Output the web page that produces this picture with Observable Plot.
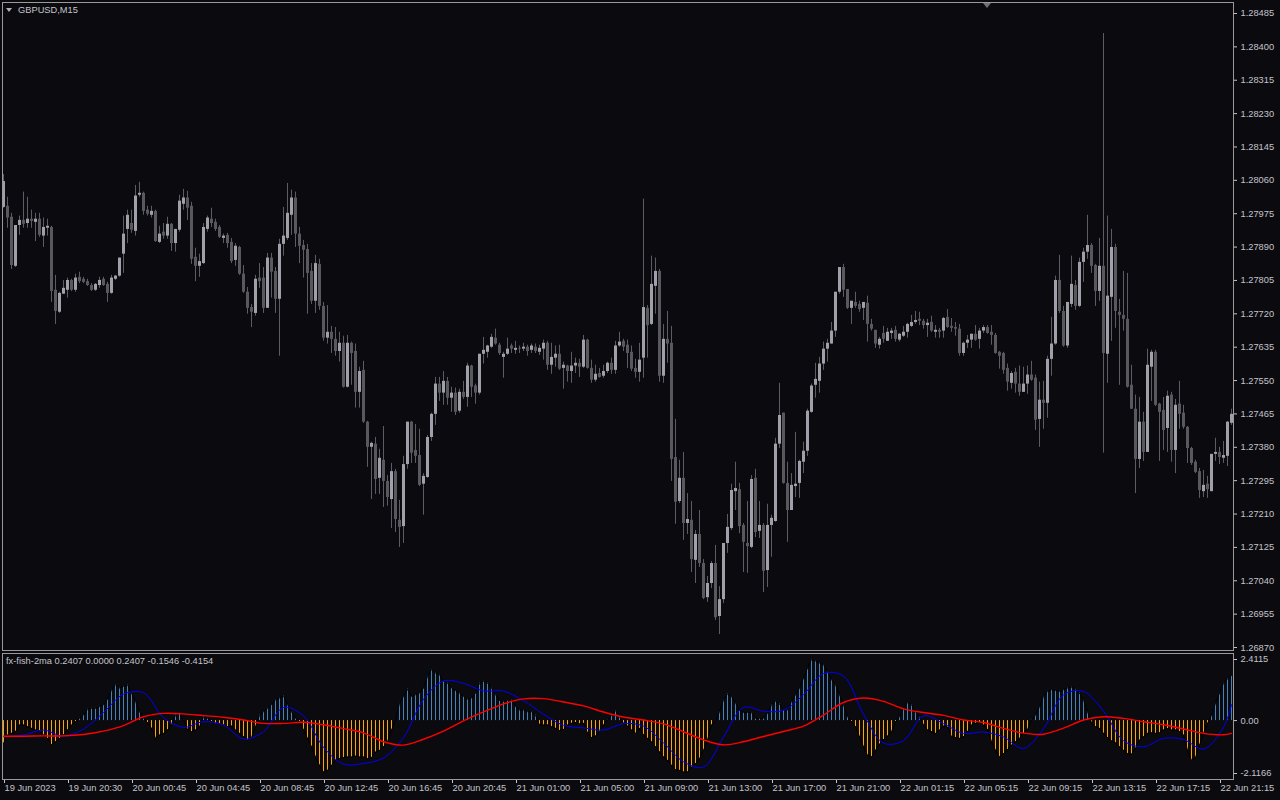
<!DOCTYPE html>
<html><head><meta charset="utf-8">
<script src="https://cdn.jsdelivr.net/npm/d3@7"></script>
<script src="https://cdn.jsdelivr.net/npm/@observablehq/plot@0.6"></script>
<style>
html,body{margin:0;padding:0;background:#0b0b0f;width:1280px;height:800px;overflow:hidden;font-family:"Liberation Sans",Arial,sans-serif;}
#wrap{position:relative;width:1280px;height:800px;background:#0b0b0f;}
#main{position:absolute;left:0;top:0;z-index:2;}
#ind{position:absolute;left:0;top:652px;z-index:1;}
#main svg{overflow:visible;}
.lbl{position:absolute;color:#c4c4cc;font-size:9.3px;line-height:12px;white-space:nowrap;z-index:3;}
.tri{position:absolute;width:0;height:0;border-left:3px solid transparent;border-right:3px solid transparent;border-top:4px solid #b0b0b8;z-index:3;}
</style></head><body>
<div id="wrap">
  <div id="main"></div>
  <div id="ind"></div>
  <div class="tri" style="left:6px;top:8px"></div>
  <div class="lbl" style="left:18px;top:4px">GBPUSD,M15</div>
  <div class="tri" style="left:983px;top:3px;border-left-width:4px;border-right-width:4px;border-top-width:5px;border-top-color:#707078"></div>
  <div class="lbl" style="left:6px;top:655px">fx-fish-2ma 0.2407 0.0000 0.2407 -0.1546 -0.4154</div>
</div>
<script>
const openP = [
1.27991,1.27994,1.27966,1.27841,1.27945,1.27958,1.27950,1.27961,1.27953,1.27961,
1.27918,1.27938,1.27940,1.27780,1.27724,1.27770,1.27780,1.27805,1.27780,1.27813,
1.27808,1.27802,1.27792,1.27780,1.27792,1.27808,1.27795,1.27772,1.27808,1.27816,
1.27872,1.27935,1.27950,1.27930,1.28022,1.28027,1.27984,1.27971,1.27981,1.27902,
1.27928,1.27918,1.27948,1.27899,1.27933,1.27999,1.28015,1.27994,1.27864,1.27841,
1.27848,1.27935,1.27961,1.27953,1.27940,1.27912,1.27920,1.27902,1.27856,1.27889,
1.27821,1.27775,1.27736,1.27721,1.27811,1.27811,1.27734,1.27862,1.27828,1.27757,
1.27897,1.27912,1.27971,1.28015,1.27923,1.27894,1.27884,1.27828,1.27752,1.27846,
1.27739,1.27658,1.27673,1.27655,1.27624,1.27645,1.27533,1.27645,1.27624,1.27520,
1.27576,1.27444,1.27380,1.27388,1.27301,1.27347,1.27293,1.27247,1.27318,1.27194,
1.27178,1.27336,1.27444,1.27372,1.27359,1.27286,1.27303,1.27405,1.27464,1.27541,
1.27518,1.27548,1.27505,1.27518,1.27472,1.27520,1.27507,1.27587,1.27536,1.27518,
1.27617,1.27622,1.27635,1.27658,1.27640,1.27609,1.27617,1.27638,1.27627,1.27632,
1.27630,1.27635,1.27627,1.27635,1.27622,1.27630,1.27645,1.27589,1.27607,1.27617,
1.27581,1.27587,1.27573,1.27587,1.27594,1.27584,1.27653,1.27581,1.27551,1.27568,
1.27561,1.27573,1.27594,1.27576,1.27638,1.27650,1.27640,1.27622,1.27581,1.27571,
1.27607,1.27734,1.27693,1.27790,1.27828,1.27561,1.27655,1.27645,1.27354,1.27242,
1.27301,1.27186,1.27194,1.27092,1.27158,1.27084,1.26997,1.27033,1.27084,1.26949,
1.26992,1.27135,1.27173,1.27267,1.27272,1.27181,1.27135,1.27125,1.27301,1.27166,
1.27181,1.27066,1.27181,1.27191,1.27388,1.27467,1.27288,1.27219,1.27280,1.27288,
1.27342,1.27370,1.27469,1.27538,1.27548,1.27592,1.27630,1.27643,1.27676,1.27775,
1.27838,1.27782,1.27734,1.27749,1.27744,1.27734,1.27747,1.27693,1.27678,1.27640,
1.27670,1.27650,1.27670,1.27678,1.27653,1.27663,1.27673,1.27688,1.27698,1.27706,
1.27701,1.27690,1.27698,1.27673,1.27678,1.27676,1.27711,1.27688,1.27685,1.27681,
1.27619,1.27645,1.27653,1.27668,1.27655,1.27676,1.27685,1.27673,1.27665,1.27622,
1.27619,1.27581,1.27543,1.27571,1.27541,1.27520,1.27541,1.27564,1.27556,1.27451,
1.27500,1.27492,1.27604,1.27643,1.27805,1.27726,1.27638,1.27744,1.27792,1.27739,
1.27851,1.27877,1.27894,1.27843,1.27777,1.27841,1.27617,1.27762,1.27889,1.27724,
1.27716,1.27706,1.27538,1.27477,1.27349,1.27444,1.27367,1.27584,1.27622,1.27490,
1.27474,1.27428,1.27513,1.27372,1.27490,1.27467,1.27431,1.27377,1.27342,1.27318,
1.27267,1.27286,1.27267,1.27362,1.27367,1.27352,1.27357,1.27441];
const highP = [
1.28075,1.28017,1.27976,1.27945,1.27969,1.28030,1.28017,1.27984,1.27976,1.27976,
1.27964,1.27961,1.27943,1.27818,1.27775,1.27805,1.27811,1.27808,1.27821,1.27826,
1.27813,1.27808,1.27797,1.27797,1.27813,1.27813,1.27800,1.27818,1.27818,1.27862,
1.27969,1.27984,1.27984,1.28047,1.28055,1.28030,1.27994,1.27994,1.27984,1.27943,
1.27950,1.27966,1.27950,1.27935,1.28022,1.28037,1.28032,1.28004,1.27887,1.27872,
1.27950,1.27969,1.27989,1.27961,1.27945,1.27923,1.27925,1.27912,1.27899,1.27892,
1.27843,1.27787,1.27744,1.27818,1.27848,1.27838,1.27874,1.27874,1.27838,1.27910,
1.27991,1.28052,1.28035,1.28030,1.27940,1.27907,1.27897,1.27848,1.27869,1.27859,
1.27749,1.27741,1.27688,1.27685,1.27673,1.27663,1.27665,1.27648,1.27643,1.27584,
1.27599,1.27446,1.27393,1.27405,1.27375,1.27433,1.27308,1.27339,1.27324,1.27245,
1.27357,1.27444,1.27446,1.27438,1.27426,1.27313,1.27410,1.27467,1.27558,1.27558,
1.27573,1.27558,1.27533,1.27531,1.27528,1.27548,1.27594,1.27589,1.27541,1.27617,
1.27660,1.27640,1.27668,1.27681,1.27645,1.27622,1.27658,1.27643,1.27650,1.27638,
1.27645,1.27640,1.27643,1.27643,1.27640,1.27653,1.27650,1.27645,1.27638,1.27640,
1.27597,1.27589,1.27622,1.27607,1.27604,1.27665,1.27655,1.27602,1.27589,1.27581,
1.27589,1.27597,1.27607,1.27650,1.27673,1.27655,1.27653,1.27638,1.27604,1.27645,
1.28012,1.27741,1.27867,1.27862,1.27833,1.27693,1.27726,1.27688,1.27451,1.27347,
1.27367,1.27262,1.27242,1.27168,1.27219,1.27094,1.27051,1.27089,1.27130,1.27025,
1.27135,1.27209,1.27286,1.27342,1.27288,1.27186,1.27242,1.27308,1.27324,1.27242,
1.27186,1.27235,1.27207,1.27403,1.27543,1.27467,1.27342,1.27313,1.27418,1.27347,
1.27393,1.27477,1.27541,1.27594,1.27609,1.27648,1.27655,1.27698,1.27775,1.27838,
1.27846,1.27782,1.27752,1.27775,1.27752,1.27749,1.27765,1.27706,1.27678,1.27660,
1.27688,1.27683,1.27683,1.27688,1.27670,1.27688,1.27696,1.27716,1.27726,1.27724,
1.27706,1.27706,1.27714,1.27690,1.27683,1.27711,1.27731,1.27708,1.27698,1.27693,
1.27648,1.27665,1.27668,1.27690,1.27683,1.27690,1.27690,1.27690,1.27670,1.27624,
1.27622,1.27592,1.27573,1.27581,1.27587,1.27584,1.27587,1.27599,1.27564,1.27546,
1.27548,1.27612,1.27711,1.27816,1.27869,1.27739,1.27749,1.27867,1.27805,1.27862,
1.27887,1.27971,1.27899,1.27846,1.27912,1.28434,1.27969,1.27935,1.27897,1.27757,
1.27828,1.27823,1.27589,1.27513,1.27507,1.27469,1.27630,1.27627,1.27627,1.27492,
1.27507,1.27523,1.27520,1.27502,1.27548,1.27487,1.27433,1.27380,1.27347,1.27326,
1.27321,1.27306,1.27362,1.27403,1.27380,1.27395,1.27446,1.27477];
const lowP = [
1.27989,1.27938,1.27833,1.27838,1.27920,1.27938,1.27938,1.27938,1.27904,1.27915,
1.27889,1.27918,1.27749,1.27693,1.27721,1.27770,1.27760,1.27777,1.27775,1.27797,
1.27797,1.27790,1.27777,1.27777,1.27785,1.27790,1.27749,1.27770,1.27805,1.27813,
1.27823,1.27899,1.27925,1.27918,1.28017,1.27971,1.27969,1.27964,1.27902,1.27899,
1.27910,1.27910,1.27879,1.27877,1.27928,1.27984,1.27958,1.27846,1.27802,1.27813,
1.27846,1.27928,1.27940,1.27930,1.27912,1.27899,1.27887,1.27848,1.27841,1.27818,
1.27772,1.27719,1.27685,1.27714,1.27785,1.27721,1.27734,1.27760,1.27721,1.27612,
1.27867,1.27907,1.27920,1.27889,1.27848,1.27811,1.27719,1.27744,1.27721,1.27729,
1.27650,1.27643,1.27619,1.27612,1.27597,1.27531,1.27531,1.27538,1.27480,1.27480,
1.27441,1.27329,1.27247,1.27260,1.27260,1.27227,1.27230,1.27173,1.27163,1.27125,
1.27135,1.27324,1.27339,1.27339,1.27280,1.27207,1.27301,1.27395,1.27436,1.27497,
1.27487,1.27487,1.27469,1.27461,1.27467,1.27502,1.27482,1.27507,1.27490,1.27513,
1.27592,1.27607,1.27632,1.27640,1.27614,1.27556,1.27614,1.27619,1.27617,1.27619,
1.27624,1.27612,1.27619,1.27619,1.27614,1.27602,1.27576,1.27566,1.27584,1.27576,
1.27528,1.27546,1.27543,1.27568,1.27558,1.27581,1.27579,1.27543,1.27546,1.27556,
1.27556,1.27568,1.27566,1.27566,1.27635,1.27624,1.27581,1.27573,1.27556,1.27546,
1.27556,1.27607,1.27690,1.27719,1.27546,1.27543,1.27594,1.27293,1.27184,1.27237,
1.27143,1.27158,1.27061,1.27033,1.27074,1.26992,1.26985,1.27020,1.26939,1.26903,
1.26982,1.27110,1.27168,1.27219,1.27160,1.27061,1.27059,1.27122,1.27150,1.27148,
1.27010,1.27023,1.27100,1.27189,1.27377,1.27286,1.27138,1.27219,1.27252,1.27250,
1.27313,1.27357,1.27467,1.27505,1.27518,1.27576,1.27597,1.27643,1.27660,1.27770,
1.27762,1.27731,1.27693,1.27734,1.27724,1.27703,1.27648,1.27676,1.27632,1.27630,
1.27645,1.27650,1.27655,1.27648,1.27648,1.27660,1.27658,1.27685,1.27693,1.27690,
1.27681,1.27660,1.27673,1.27658,1.27658,1.27658,1.27683,1.27673,1.27663,1.27612,
1.27612,1.27632,1.27632,1.27650,1.27630,1.27670,1.27668,1.27640,1.27617,1.27579,
1.27566,1.27523,1.27528,1.27518,1.27510,1.27520,1.27515,1.27548,1.27423,1.27380,
1.27426,1.27454,1.27561,1.27640,1.27721,1.27635,1.27632,1.27736,1.27729,1.27736,
1.27800,1.27859,1.27823,1.27739,1.27752,1.27365,1.27543,1.27650,1.27683,1.27538,
1.27676,1.27531,1.27477,1.27262,1.27326,1.27344,1.27367,1.27497,1.27484,1.27344,
1.27372,1.27367,1.27342,1.27313,1.27426,1.27426,1.27339,1.27334,1.27313,1.27250,
1.27252,1.27250,1.27267,1.27344,1.27336,1.27339,1.27331,1.27436];
const closeP = [
1.28057,1.27964,1.27843,1.27945,1.27958,1.27948,1.27961,1.27955,1.27961,1.27920,
1.27940,1.27943,1.27777,1.27726,1.27772,1.27785,1.27805,1.27780,1.27811,1.27802,
1.27800,1.27792,1.27780,1.27795,1.27805,1.27792,1.27772,1.27811,1.27816,1.27862,
1.27923,1.27971,1.27933,1.28020,1.28027,1.27981,1.27974,1.27981,1.27904,1.27923,
1.27918,1.27948,1.27899,1.27935,1.28007,1.28015,1.27989,1.27859,1.27841,1.27853,
1.27940,1.27964,1.27950,1.27935,1.27915,1.27918,1.27899,1.27853,1.27892,1.27821,
1.27775,1.27734,1.27724,1.27808,1.27802,1.27734,1.27862,1.27826,1.27757,1.27897,
1.27918,1.27976,1.28015,1.27923,1.27892,1.27882,1.27823,1.27752,1.27848,1.27739,
1.27658,1.27673,1.27655,1.27624,1.27645,1.27533,1.27645,1.27619,1.27520,1.27573,
1.27444,1.27380,1.27390,1.27298,1.27352,1.27293,1.27252,1.27318,1.27196,1.27176,
1.27336,1.27444,1.27365,1.27357,1.27283,1.27306,1.27405,1.27464,1.27541,1.27518,
1.27548,1.27505,1.27518,1.27469,1.27520,1.27507,1.27587,1.27533,1.27518,1.27617,
1.27627,1.27638,1.27660,1.27643,1.27619,1.27617,1.27630,1.27630,1.27632,1.27630,
1.27635,1.27624,1.27638,1.27624,1.27632,1.27645,1.27589,1.27609,1.27617,1.27579,
1.27589,1.27573,1.27587,1.27594,1.27584,1.27653,1.27581,1.27551,1.27566,1.27558,
1.27573,1.27594,1.27576,1.27638,1.27648,1.27635,1.27619,1.27579,1.27571,1.27602,
1.27736,1.27690,1.27795,1.27828,1.27561,1.27655,1.27643,1.27349,1.27240,1.27301,
1.27186,1.27196,1.27094,1.27158,1.27084,1.26995,1.27033,1.27084,1.26946,1.26992,
1.27135,1.27176,1.27270,1.27275,1.27178,1.27138,1.27127,1.27298,1.27163,1.27181,
1.27064,1.27181,1.27199,1.27388,1.27461,1.27288,1.27219,1.27283,1.27286,1.27344,
1.27370,1.27472,1.27536,1.27553,1.27592,1.27630,1.27645,1.27676,1.27775,1.27838,
1.27780,1.27734,1.27752,1.27739,1.27731,1.27749,1.27693,1.27681,1.27643,1.27655,
1.27655,1.27673,1.27676,1.27655,1.27668,1.27673,1.27693,1.27698,1.27703,1.27701,
1.27690,1.27696,1.27676,1.27678,1.27673,1.27708,1.27685,1.27683,1.27681,1.27619,
1.27645,1.27653,1.27668,1.27653,1.27676,1.27685,1.27670,1.27665,1.27619,1.27612,
1.27576,1.27546,1.27568,1.27541,1.27520,1.27541,1.27564,1.27551,1.27449,1.27500,
1.27492,1.27604,1.27643,1.27805,1.27726,1.27638,1.27749,1.27795,1.27739,1.27851,
1.27877,1.27894,1.27841,1.27777,1.27841,1.27619,1.27765,1.27889,1.27726,1.27716,
1.27706,1.27533,1.27477,1.27349,1.27444,1.27367,1.27589,1.27622,1.27487,1.27469,
1.27423,1.27510,1.27372,1.27487,1.27464,1.27431,1.27377,1.27339,1.27316,1.27270,
1.27283,1.27272,1.27362,1.27367,1.27354,1.27359,1.27444,1.27464];

const histVals = [
-0.82,-0.52,-0.46,-0.40,-0.16,-0.16,-0.22,-0.28,-0.34,-0.40,
-0.52,-0.64,-0.88,-0.76,-0.64,-0.52,-0.34,-0.16,-0.04,0.08,
0.20,0.41,0.44,0.44,0.50,0.57,0.77,1.11,1.29,1.17,
1.23,1.29,0.99,0.69,0.32,0.08,-0.07,-0.28,-0.64,-0.52,
-0.46,-0.34,-0.16,0.20,0.26,0.02,-0.32,-0.40,-0.34,-0.22,
0.14,0.08,-0.04,-0.12,-0.12,-0.16,-0.22,-0.20,-0.34,-0.46,
-0.58,-0.70,-0.61,-0.22,0.20,0.32,0.44,0.57,0.75,0.81,
0.89,0.57,0.32,0.08,-0.04,-0.34,-0.64,-0.94,-1.31,-1.61,
-1.85,-1.79,-1.61,-1.43,-1.37,-1.33,-1.31,-1.31,-1.28,-1.31,
-1.31,-1.37,-1.33,-1.13,-1.07,-0.94,-0.76,-0.34,0.02,0.63,
0.87,1.13,0.87,0.93,0.99,1.17,1.59,1.83,1.71,1.65,
1.41,1.35,1.17,1.08,0.99,0.87,0.77,0.81,0.99,1.35,
1.41,1.35,1.17,0.93,0.72,0.69,0.72,0.75,0.50,0.38,
0.38,0.32,0.32,0.20,-0.16,-0.16,-0.16,-0.22,-0.28,-0.36,
-0.32,-0.16,-0.10,-0.07,-0.12,-0.10,-0.44,-0.61,-0.56,-0.40,
-0.16,0.02,0.20,0.36,0.14,-0.10,-0.20,-0.34,-0.46,-0.28,
-0.52,-0.64,-0.76,-0.94,-1.13,-1.31,-1.43,-1.61,-1.77,-1.79,
-1.85,-1.85,-1.67,-1.55,-1.37,-1.07,-0.70,-0.16,-0.01,0.32,
0.75,0.96,0.87,0.63,0.38,0.29,0.29,0.29,0.08,0.08,
0.08,0.26,0.57,0.69,0.60,0.38,0.38,0.69,0.93,1.17,
1.53,1.89,2.20,2.14,2.07,2.01,1.77,1.47,1.29,0.93,
0.57,0.14,-0.04,-0.22,-0.58,-0.94,-1.25,-1.31,-1.07,-0.85,
-0.68,-0.56,-0.40,-0.04,0.14,0.44,0.65,0.57,0.32,0.14,
-0.16,-0.34,-0.40,-0.46,-0.34,-0.20,-0.24,-0.58,-0.61,-0.64,
-0.58,-0.40,-0.16,-0.10,-0.07,-0.16,-0.32,-0.76,-1.07,-1.31,
-1.19,-1.04,-0.88,-0.76,-0.64,-0.46,-0.32,0.02,0.20,0.50,
0.87,1.05,1.11,1.08,1.05,1.11,1.17,1.20,1.13,0.99,
0.75,0.32,-0.07,-0.22,-0.28,-0.46,-0.61,-0.73,-0.80,-0.94,
-1.07,-1.19,-1.21,-1.00,-0.70,-0.58,-0.46,-0.44,-0.46,-0.44,
-0.34,-0.29,-0.34,-0.34,-0.40,-0.52,-1.07,-1.43,-1.33,-0.88,
-0.46,-0.10,0.20,0.63,0.99,1.35,1.50,1.62];

const maBars = [0,5,10,15,20,25,30,35,40,45,50,55,60,65,70,75,80,85,90,95,100,105,110,115,120,125,130,135,140,145,150,155,160,165,170,175,180,185,190,195,200,205,210,215,220,225,230,235,240,245,250,255,260,265,270,275,280,285,290,295,300,305,307];
const blueVals = [
-0.58,-0.52,-0.34,-0.56,-0.30,0.29,0.95,1.00,0.11,-0.24,
-0.04,-0.16,-0.66,-0.40,0.47,0.17,-0.96,-1.56,-1.54,-1.34,
-0.61,0.76,1.42,1.34,1.07,1.06,0.72,0.23,-0.17,-0.26,
-0.34,-0.11,-0.20,-0.80,-1.48,-1.67,-0.59,0.47,0.34,0.37,
0.93,1.69,1.60,0.23,-0.81,-0.72,0.17,-0.11,-0.46,-0.41,
-0.59,-1.00,-0.29,0.92,1.05,0.34,-0.72,-0.94,-0.64,-0.68,
-1.02,-0.24,0.57];
const redVals = [
-0.56,-0.56,-0.55,-0.55,-0.50,-0.38,-0.18,0.14,0.26,0.24,
0.18,0.12,0.02,-0.10,-0.10,-0.06,-0.15,-0.29,-0.44,-0.76,
-0.88,-0.67,-0.38,-0.01,0.31,0.60,0.78,0.79,0.67,0.53,
0.31,0.13,0.02,-0.12,-0.40,-0.69,-0.87,-0.76,-0.57,-0.39,
-0.20,0.20,0.65,0.81,0.69,0.42,0.29,0.19,0.02,-0.07,
-0.28,-0.45,-0.49,-0.27,0.02,0.14,0.08,-0.04,-0.15,-0.30,
-0.46,-0.51,-0.46];

const priceTicks = [1.28485,1.28400,1.28315,1.28230,1.28145,1.28060,1.27975,1.27890,1.27805,1.27720,1.27635,1.27550,1.27465,1.27380,1.27295,1.27210,1.27125,1.27040,1.26955,1.26870];
const timeTicks = [0,16,32,48,64,80,96,112,128,144,160,176,192,208,224,240,256,272,288,304];
const timeLabels = ["19 Jun 2023","19 Jun 20:30","20 Jun 00:45","20 Jun 04:45","20 Jun 08:45","20 Jun 12:45","20 Jun 16:45","20 Jun 20:45","21 Jun 01:00","21 Jun 05:00","21 Jun 09:00","21 Jun 13:00","21 Jun 17:00","21 Jun 21:00","22 Jun 01:15","22 Jun 05:15","22 Jun 09:15","22 Jun 13:15","22 Jun 17:15","22 Jun 21:15"];
const indTop = 2.4115, indZero = 0, indBottom = -2.1166;

const bars = openP.map((o, i) => ({i, o, h: highP[i], l: lowP[i], c: closeP[i]}));
const hist = histVals.map((v, i) => ({i, v}));
const ma = maBars.map((b, k) => ({i: b, blue: blueVals[k], red: redVals[k]}));

const font = "'Liberation Sans', Arial, sans-serif";
const txt = "#c4c4cc";
const border = "#9a9a9a";

const mainSvg = Plot.plot({
  width: 1280, height: 651,
  marginLeft: 2, marginRight: 47, marginTop: 2, marginBottom: 1,
  x: {type: "linear", domain: [-0.25, 307.5], axis: null, label: null},
  y: {type: "linear", domain: [1.268624, 1.285130], axis: null, label: null},
  style: {background: "transparent", color: txt, fontFamily: font, fontSize: "9.3px", overflow: "visible"},
  marks: [
    Plot.ruleX(bars, {x: "i", y1: "l", y2: "h", stroke: "#5c5c63", strokeWidth: 1}),
    Plot.ruleX(bars.filter(d => d.c >= d.o), {x: "i", y1: "o", y2: "c", stroke: "#a0a0aa", strokeWidth: 3}),
    Plot.ruleX(bars.filter(d => d.c < d.o), {x: "i", y1: "o", y2: "c", stroke: "#58585e", strokeWidth: 3}),
    Plot.axisY(priceTicks, {anchor: "right", tickSize: 3, tickPadding: 4, tickFormat: d => d.toFixed(5), label: null}),
    Plot.frame({stroke: border})
  ]
});
document.getElementById("main").appendChild(mainSvg);

const indSvg = Plot.plot({
  width: 1280, height: 148,
  marginLeft: 2, marginRight: 47, marginTop: 1, marginBottom: 21,
  x: {type: "linear", domain: [-0.25, 307.5], axis: null, label: null},
  y: {type: "linear", domain: [indBottom, indTop], axis: null, label: null},
  style: {background: "transparent", color: txt, fontFamily: font, fontSize: "9.3px", overflow: "visible"},
  marks: [
    Plot.ruleX(hist.filter(d => d.v >= 0), {x: "i", y1: 0, y2: "v", stroke: "#4682b4"}),
    Plot.ruleX(hist.filter(d => d.v < 0), {x: "i", y1: 0, y2: "v", stroke: "#ffa500"}),
    Plot.line(hist, {x: "i", y: "v", stroke: "#000000", strokeWidth: 1}),
    Plot.line(ma, {x: "i", y: "blue", stroke: "#0000ff", strokeWidth: 1, curve: "catmull-rom"}),
    Plot.line(ma, {x: "i", y: "red", stroke: "#ff0000", strokeWidth: 1.4, curve: "catmull-rom"}),
    Plot.axisY([indTop], {anchor: "right", tickSize: 3, tickPadding: 4, tickFormat: d => d.toFixed(4), dy: 6, label: null}),
    Plot.axisY([indZero], {anchor: "right", tickSize: 3, tickPadding: 4, tickFormat: () => "0.00", label: null}),
    Plot.axisY([indBottom], {anchor: "right", tickSize: 3, tickPadding: 4, tickFormat: d => d.toFixed(4), dy: -6, label: null}),
    Plot.axisX(timeTicks, {anchor: "bottom", tickSize: 4, tickPadding: 1, textAnchor: "start", dx: 1, tickFormat: d => timeLabels[timeTicks.indexOf(d)], label: null}),
    Plot.frame({stroke: border})
  ]
});
document.getElementById("ind").appendChild(indSvg);
</script>
</body></html>
